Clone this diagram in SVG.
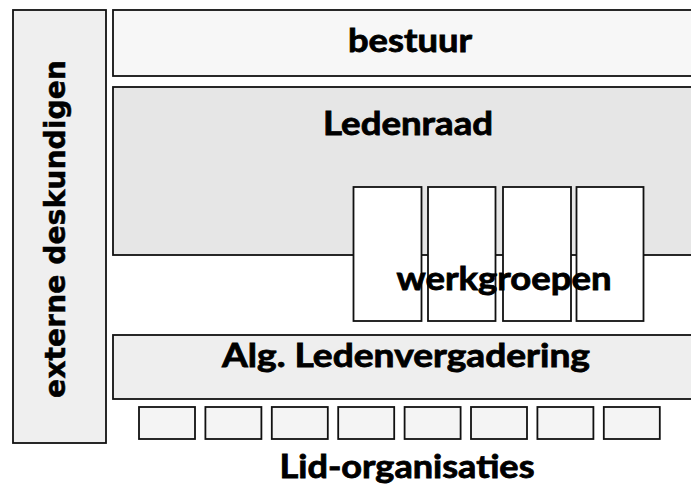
<svg xmlns="http://www.w3.org/2000/svg" width="691" height="486" viewBox="0 0 691 486">
<style>
.b{stroke:#111;stroke-width:1.8}
.t{font-family:Lato,"Open Sans","Liberation Sans",sans-serif;font-weight:bold;font-size:32px;fill:#000;stroke:#000;stroke-width:0.8;text-anchor:middle}
.v{font-family:"DejaVu Sans",Verdana,sans-serif;font-weight:bold;font-size:29px;fill:#000;stroke:#000;stroke-width:0.5;text-anchor:middle}
</style>
<rect width="691" height="486" fill="#fff"/>
<g id="externe">
<rect class="b" x="13" y="10" width="93" height="433" fill="#efefef"/>
<text class="v" transform="translate(65 229) rotate(-90)" x="0" y="0" textLength="338" lengthAdjust="spacingAndGlyphs">externe deskundigen</text>
</g>
<g id="bestuur">
<rect class="b" x="113" y="10" width="580" height="66" fill="#f7f7f7"/>
<text class="t" x="410" y="52" textLength="124" lengthAdjust="spacingAndGlyphs">bestuur</text>
</g>
<g id="ledenraad">
<rect class="b" x="113" y="87" width="580" height="168" fill="#e6e6e6"/>
<text class="t" x="408" y="135" textLength="170" lengthAdjust="spacingAndGlyphs">Ledenraad</text>
</g>
<g id="werkgroepen">
<rect class="b" x="353.5" y="187" width="68" height="134" fill="#fff"/>
<rect class="b" x="428" y="187" width="67.5" height="134" fill="#fff"/>
<rect class="b" x="503" y="187" width="68" height="134" fill="#fff"/>
<rect class="b" x="576.5" y="187" width="67" height="134" fill="#fff"/>
<text class="t" x="504" y="290" textLength="215" lengthAdjust="spacingAndGlyphs">werkgroepen</text>
</g>
<g id="alv">
<rect class="b" x="113" y="335" width="580" height="64" fill="#eeeeee"/>
<text class="t" x="406" y="367" textLength="368" lengthAdjust="spacingAndGlyphs">Alg. Ledenvergadering</text>
</g>
<g id="lid-organisaties">
<rect class="b" x="139" y="407" width="56" height="32" fill="#f4f4f4"/>
<rect class="b" x="205.4" y="407" width="56" height="32" fill="#f4f4f4"/>
<rect class="b" x="271.8" y="407" width="56" height="32" fill="#f4f4f4"/>
<rect class="b" x="338.2" y="407" width="56" height="32" fill="#f4f4f4"/>
<rect class="b" x="404.6" y="407" width="56" height="32" fill="#f4f4f4"/>
<rect class="b" x="471" y="407" width="56" height="32" fill="#f4f4f4"/>
<rect class="b" x="537.4" y="407" width="56" height="32" fill="#f4f4f4"/>
<rect class="b" x="603.8" y="407" width="56" height="32" fill="#f4f4f4"/>
<text class="t" x="407" y="478" textLength="255" lengthAdjust="spacingAndGlyphs">Lid-organisaties</text>
</g>
<g id="connectors"></g>
</svg>
